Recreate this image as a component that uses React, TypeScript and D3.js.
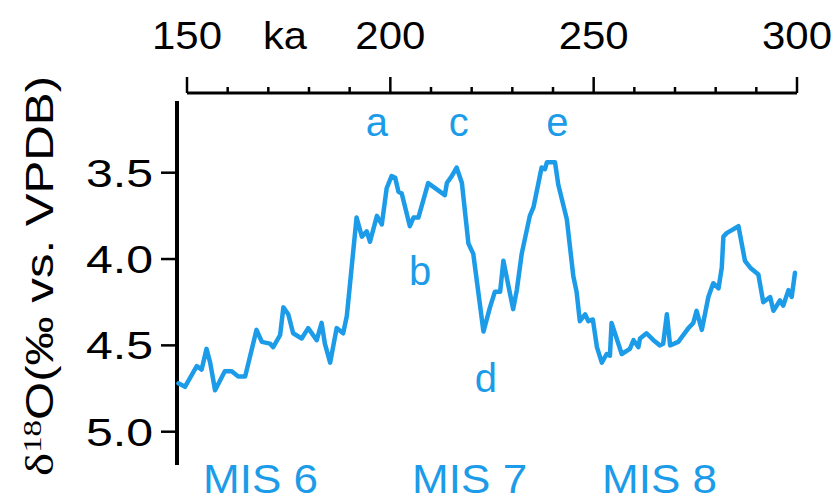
import React from "react";
import * as d3 from "d3";

const ageKa = [147.9, 149.5, 152.4, 153.6, 154.8, 155.7, 156.9, 159.3, 161.0, 162.6, 164.3, 167.1, 168.4, 170.4, 171.2, 172.9, 173.7, 174.9, 176.1, 178.2, 179.8, 181.9, 183.1, 183.9, 185.2, 186.8, 188.4, 189.3, 190.1, 191.7, 193.0, 194.2, 195.0, 196.7, 197.9, 199.1, 200.3, 201.2, 202.0, 202.8, 204.8, 205.7, 206.9, 209.3, 213.4, 213.9, 215.1, 216.3, 217.6, 219.2, 220.4, 222.9, 224.5, 225.7, 227.0, 227.8, 230.2, 231.1, 232.3, 234.3, 235.2, 237.2, 238.0, 238.5, 240.5, 241.3, 243.4, 245.0, 245.8, 246.6, 247.9, 248.7, 249.8, 250.8, 252.0, 253.2, 254.0, 254.4, 256.9, 258.9, 259.8, 261.0, 261.4, 263.0, 264.7, 266.3, 267.1, 268.0, 268.8, 270.8, 273.3, 274.5, 275.3, 276.6, 278.2, 279.4, 280.7, 281.5, 281.9, 282.7, 285.6, 287.2, 288.5, 290.5, 291.7, 293.4, 294.2, 295.8, 296.6, 297.9, 298.7, 299.5];
const d18O = [4.72, 4.74, 4.62, 4.64, 4.52, 4.6, 4.76, 4.65, 4.65, 4.68, 4.68, 4.41, 4.48, 4.49, 4.51, 4.44, 4.28, 4.32, 4.43, 4.46, 4.4, 4.47, 4.37, 4.49, 4.6, 4.4, 4.43, 4.33, 4.14, 3.76, 3.87, 3.84, 3.9, 3.75, 3.8, 3.59, 3.52, 3.53, 3.61, 3.62, 3.81, 3.76, 3.76, 3.56, 3.63, 3.56, 3.52, 3.47, 3.56, 3.91, 3.97, 4.42, 4.28, 4.19, 4.19, 4.01, 4.29, 4.18, 3.97, 3.75, 3.7, 3.47, 3.48, 3.44, 3.44, 3.57, 3.77, 4.1, 4.19, 4.36, 4.32, 4.36, 4.35, 4.51, 4.6, 4.55, 4.56, 4.37, 4.55, 4.52, 4.47, 4.51, 4.46, 4.43, 4.47, 4.5, 4.49, 4.32, 4.5, 4.48, 4.4, 4.37, 4.3, 4.41, 4.22, 4.14, 4.17, 4.05, 3.87, 3.85, 3.81, 4.01, 4.05, 4.09, 4.25, 4.22, 4.3, 4.24, 4.27, 4.18, 4.22, 4.08];

const xTickLabels = [150, 200, 250, 300];
const yTickValues = [3.5, 4.0, 4.5, 5.0];
const peakLabels = ["a", "b", "c", "d", "e"];
const peakAges = [196.7, 207.3, 216.8, 223.5, 241.1];
const peakValues = [3.29, 4.15, 3.29, 4.77, 3.29];
const stageLabels = ["MIS 6", "MIS 7", "MIS 8"];
const stageAges = [168.1, 219.5, 266.2];

const BLUE = "#1c9ce8";
const SANS = "Arial, 'Liberation Sans', sans-serif";
const SERIF = "'Times New Roman', 'Liberation Serif', serif";

export default function App() {
  const x = d3.scaleLinear().domain([150, 300]).range([187, 797]);
  const y = d3.scaleLinear().domain([3.5, 5.0]).range([172.7, 431.7]);
  const data = ageKa.map((a, i) => ({ a, v: d18O[i] }));
  const line = d3
    .line<{ a: number; v: number }>()
    .x((d) => x(d.a))
    .y((d) => y(d.v));
  const minorTicks = x.ticks(15);
  const axisY = 93;

  return (
    <svg
      width={835}
      height={497}
      style={{ position: "absolute", left: 0, top: 0, background: "#fff" }}
    >
      {/* top axis */}
      <line x1={x(150)} x2={x(300)} y1={axisY} y2={axisY} stroke="#000" strokeWidth={3} />
      {minorTicks.map((t) => {
        const major = t % 50 === 0;
        return (
          <line
            key={t}
            x1={x(t)}
            x2={x(t)}
            y1={axisY}
            y2={axisY - (major ? 16 : 6)}
            stroke="#000"
            strokeWidth={2.5}
          />
        );
      })}
      {xTickLabels.map((t) => (
        <text
          key={t}
          x={x(t)}
          y={49}
          textAnchor="middle"
          fontFamily={SANS}
          fontSize={39}
          textLength={70}
          lengthAdjust="spacingAndGlyphs"
        >
          {t}
        </text>
      ))}
      <text
        x={285}
        y={49}
        textAnchor="middle"
        fontFamily={SANS}
        fontSize={39}
        textLength={44}
        lengthAdjust="spacingAndGlyphs"
      >
        ka
      </text>

      {/* left axis */}
      <line x1={177} x2={177} y1={101} y2={465} stroke="#000" strokeWidth={4} />
      {yTickValues.map((t) => (
        <g key={t}>
          <line x1={161} x2={177} y1={y(t)} y2={y(t)} stroke="#000" strokeWidth={2.5} />
          <text
            x={153}
            y={y(t) + 14}
            textAnchor="end"
            fontFamily={SANS}
            fontSize={38}
            textLength={67}
            lengthAdjust="spacingAndGlyphs"
          >
            {t.toFixed(1)}
          </text>
        </g>
      ))}
      <text
        transform={`translate(53,276) rotate(-90)`}
        textAnchor="middle"
        fontFamily={SANS}
        fontSize={39}
        textLength={400}
        lengthAdjust="spacingAndGlyphs"
      >
        <tspan fontFamily={SERIF}>δ</tspan>
        <tspan fontFamily={SERIF} fontSize={26} dy={-12}>18</tspan>
        <tspan dy={12}>O(‰ vs. VPDB)</tspan>
      </text>

      {/* data */}
      <path
        d={line(data) || ""}
        fill="none"
        stroke={BLUE}
        strokeWidth={4.5}
        strokeLinejoin="round"
        strokeLinecap="round"
      />

      {peakLabels.map((l, i) => (
        <text
          key={l}
          x={x(peakAges[i])}
          y={y(peakValues[i])}
          textAnchor="middle"
          fontFamily={SANS}
          fontSize={40}
          fill={BLUE}
        >
          {l}
        </text>
      ))}
      {stageLabels.map((l, i) => (
        <text
          key={l}
          x={x(stageAges[i])}
          y={493}
          textAnchor="middle"
          fontFamily={SANS}
          fontSize={41}
          fill={BLUE}
          textLength={115}
          lengthAdjust="spacingAndGlyphs"
        >
          {l}
        </text>
      ))}
    </svg>
  );
}
